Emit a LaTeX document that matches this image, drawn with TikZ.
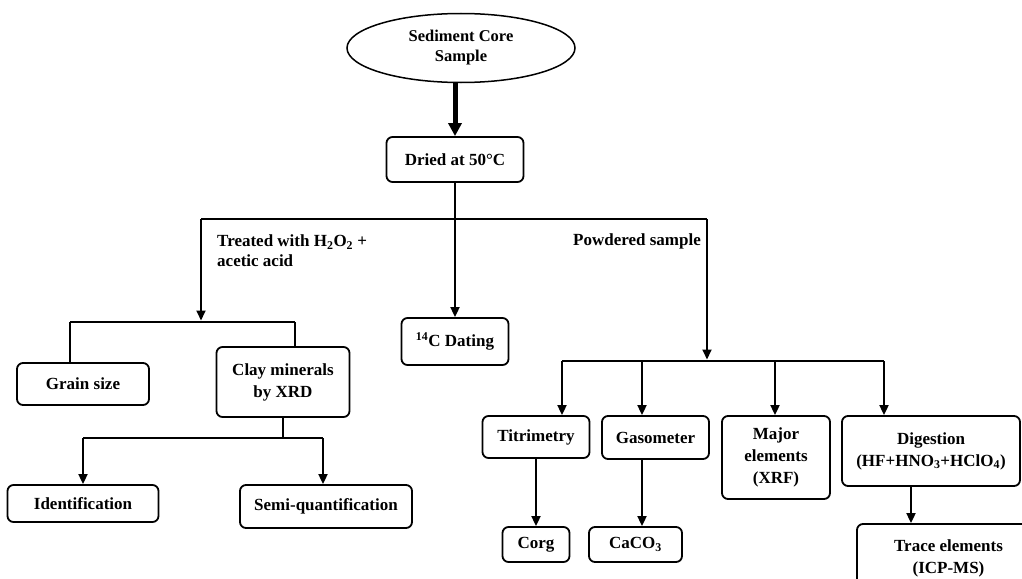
\documentclass[tikz,border=0pt]{standalone}
\usepackage{fontspec}
\setmainfont{Liberation Serif}
\usetikzlibrary{shapes.geometric,arrows.meta}
\begin{document}
\begin{tikzpicture}[x=1pt,y=-1pt,
  every node/.style={font=\fontsize{17}{22}\selectfont\bfseries},
  box/.style={draw, rounded corners=6pt, line width=1.8pt, align=center, inner sep=1pt},
  lbl/.style={inner sep=0pt, align=left, font=\fontsize{17}{20}\selectfont\bfseries},
  ln/.style={line width=1.8pt},
  arr/.style={line width=1.8pt, -{Triangle[length=10pt,width=9pt]}},
  thickarr/.style={line width=5pt, -{Triangle[length=13pt,width=13pt]}}
]
\clip (0,0) rectangle (1022,578);
\fill[white] (0,0) rectangle (1022,578);

% nodes
\node[draw, ellipse, line width=1.5pt, minimum width=228pt, minimum height=69pt, align=center,
      font=\fontsize{16.5}{20}\selectfont\bfseries] (ell) at (461,48) {Sediment Core\\Sample};
\node[box, minimum width=137pt, minimum height=45pt] (dried) at (455,159.5) {Dried at 50°C};
\node[box, minimum width=107pt, minimum height=47pt] (dating) at (455,341.5) {\textsuperscript{14}C Dating};
\node[box, minimum width=132pt, minimum height=42pt] (grain) at (83,384) {Grain size};
\node[box, minimum width=133pt, minimum height=70pt] (clay) at (283,382) {Clay minerals\\by XRD};
\node[box, minimum width=151pt, minimum height=37pt] (ident) at (83,503.5) {Identification};
\node[box, minimum width=172pt, minimum height=43pt] (semi) at (326,506.5) {Semi-quantification};
\node[box, minimum width=107pt, minimum height=42pt] (titr) at (536,437) {Titrimetry};
\node[box, minimum width=107pt, minimum height=43pt] (gaso) at (655.5,437.5) {Gasometer};
\node[box, minimum width=108pt, minimum height=83pt] (major) at (776,457.5) {Major\\elements\\(XRF)};
\node[box, minimum width=178pt, minimum height=70pt] (digest) at (931,451) {Digestion\\(HF+HNO\textsubscript{3}+HClO\textsubscript{4})};
\node[box, minimum width=67pt, minimum height=35pt] (corg) at (536,544.5) {Corg};
\node[box, minimum width=93pt, minimum height=35pt] (caco) at (635.5,544.5) {CaCO\textsubscript{3}};
\node[box, minimum width=183pt, minimum height=68pt] (trace) at (948.5,558) {Trace elements\\(ICP-MS)};

% labels
\node[lbl, anchor=north west] (ltreat) at (217,234.5) {Treated with H\textsubscript{2}O\textsubscript{2} +\\acetic acid};
\node[lbl, anchor=base west] (lpowder) at (573,245) {Powdered sample};

% junction coordinates
\coordinate (jL) at (201,219);
\coordinate (jR) at (707,219);
\coordinate (tl) at (70,322);
\coordinate (tr) at (295,322);
\coordinate (tm) at (201,322);
\coordinate (il) at (83,438);
\coordinate (ir) at (323,438);
\coordinate (rl) at (562,361);
\coordinate (rg) at (642,361);
\coordinate (rm) at (775,361);
\coordinate (rr) at (884,361);
\coordinate (rj) at (707,361);
\coordinate (dx) at (911,486);

% connectors
\draw[thickarr] (ell.south -| dried.north) -- (dried.north);
\draw[arr] (dried.south) -- (dating.north);
\draw[ln] (jL) -- (jR);
\draw[arr, shorten >=1.5pt] (jL) -- (tm);
\draw[ln] (tl) -- (tr);
\draw[ln] (tl) -- (tl |- grain.north);
\draw[ln] (tr) -- (tr |- clay.north);
\draw[ln] (clay.south) -- (clay.south |- il);
\draw[ln] (il) -- (ir);
\draw[arr] (il) -- (il |- ident.north);
\draw[arr] (ir) -- (ir |- semi.north);

\draw[arr, shorten >=1.5pt] (jR) -- (rj);
\draw[ln] (rl) -- (rr);
\draw[arr] (rl) -- (rl |- titr.north);
\draw[arr] (rg) -- (rg |- gaso.north);
\draw[arr] (rm) -- (rm |- major.north);
\draw[arr] (rr) -- (rr |- digest.north);
\draw[arr] (titr.south) -- (corg.north);
\draw[arr] (rg |- gaso.south) -- (rg |- caco.north);
\draw[arr] (dx) -- (dx |- trace.north);
\end{tikzpicture}
\end{document}
